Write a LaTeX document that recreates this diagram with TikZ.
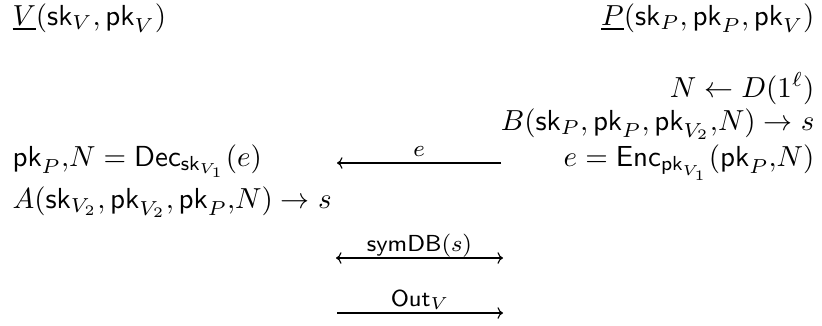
\documentclass[tikz,border=0pt]{standalone}
\usepackage{amssymb}
\usepackage{amsmath}
\usepackage{tikz}
\usetikzlibrary{arrows.meta}

\begin{document}
\begin{tikzpicture}[x=0.345pt,y=-0.345pt,
        >={To[length=1.9pt,width=4pt]},
        lhs/.style={anchor=base west,inner sep=0pt},
        rhs/.style={anchor=base east,inner sep=0pt},
        lbl/.style={anchor=base,yshift=2.4pt,inner sep=0pt,font=\footnotesize}]
    \useasboundingbox (0,0) rectangle (822,325);
    % parties
    \node[lhs] (verifier) at (12,25) {$\underline{V}(\mathsf{sk}_V,\mathsf{pk}_V)$};
    \node[rhs] (prover) at (815,25) {$\underline{P}(\mathsf{sk}_P,\mathsf{pk}_P,\mathsf{pk}_V)$};
    % prover side
    \node[rhs] (nonce) at (815,97) {$N \leftarrow D(1^\ell)$};
    \node[rhs] (secretB) at (815,130) {$B(\mathsf{sk}_P,\mathsf{pk}_P,\mathsf{pk}_{V_2}{,}N) \rightarrow s$};
    \node[rhs] (encrypt) at (815,166) {$e = \mathsf{Enc}_{\mathsf{pk}_{V_1}}(\mathsf{pk}_P{,}N)$};
    % verifier side
    \node[lhs] (decrypt) at (12,166) {$\mathsf{pk}_P{,}N = \mathsf{Dec}_{\mathsf{sk}_{V_1}}(e)$};
    \node[lhs] (secretA) at (12,208) {$A(\mathsf{sk}_{V_2},\mathsf{pk}_{V_2},\mathsf{pk}_P{,}N) \rightarrow s$};
    % messages
    \coordinate (eL) at (337,163);
    \coordinate (eR) at (501,163);
    \coordinate (dbL) at (336,258);
    \coordinate (dbR) at (503,258);
    \coordinate (outL) at (337,313);
    \coordinate (outR) at (503,313);
    \draw[->] (eR) -- node[lbl] (msgE) {$e$} (eL);
    \draw[<->] (dbL) -- node[lbl] (msgDB) {$\mathsf{symDB}(s)$} (dbR);
    \draw[->] (outL) -- node[lbl] (msgOut) {$\mathsf{Out}_V$} (outR);
\end{tikzpicture}
\end{document}
